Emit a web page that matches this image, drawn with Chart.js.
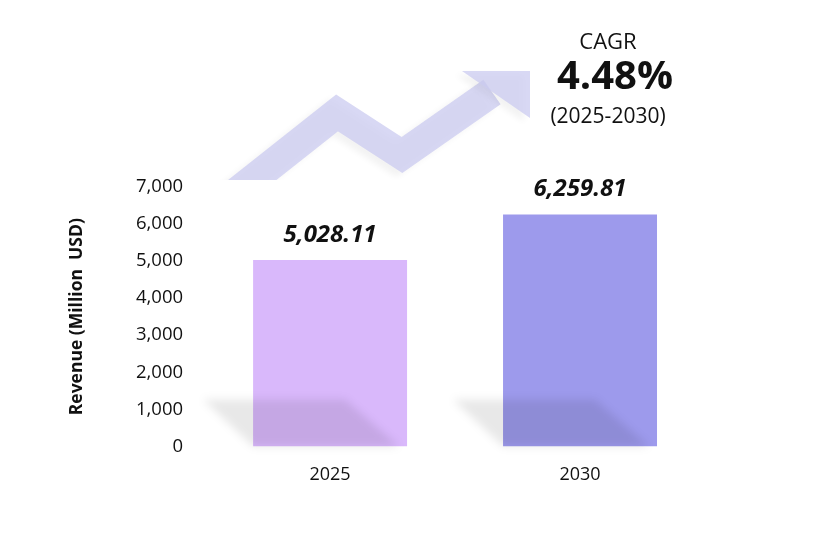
<!DOCTYPE html>
<html>
<head>
<meta charset="utf-8">
<script src="https://cdn.jsdelivr.net/npm/chart.js@4.4.1/dist/chart.umd.min.js"></script>
<style>
  html, body { margin: 0; padding: 0; background: #fff; }
  #wrap { width: 820px; height: 538px; position: relative; }
</style>
</head>
<body>
<div id="wrap"><canvas id="revChart" width="820" height="538"></canvas></div>
<script>
const years = ["2025", "2030"];
const revenue = [5028.11, 6259.81];
const barColors = ["#d9b8fb", "#9d9aec"];
const cagrLabel = "CAGR";
const cagrValue = "4.48%";
const cagrPeriod = "(2025-2030)";

function fmt(v) {
    return v.toLocaleString("en-US", {minimumFractionDigits: 2, maximumFractionDigits: 2});
}

// background arrow + CAGR text, drawn before the bars
const decoPlugin = {
    id: "deco",
    beforeDatasetsDraw(chart) {
        const ctx = chart.ctx;
        ctx.save();
        // arrow band
        ctx.beginPath();
        ctx.rect(0, 0, chart.width, 180);
        ctx.clip();
        ctx.lineWidth = 30;
        ctx.lineJoin = "miter";
        ctx.strokeStyle = "rgba(203,203,240,0.75)";
        ctx.shadowColor = "rgba(0,0,0,0.07)";
        ctx.shadowBlur = 6;
        ctx.shadowOffsetX = -6;
        ctx.shadowOffsetY = 4;
        ctx.beginPath();
        ctx.moveTo(232, 196);
        ctx.lineTo(337, 113);
        ctx.lineTo(402, 155);
        ctx.lineTo(492, 92);
        ctx.stroke();
        ctx.fillStyle = "rgba(203,203,240,0.75)";
        ctx.beginPath();
        ctx.moveTo(462, 71);
        ctx.lineTo(530, 71);
        ctx.lineTo(530, 118);
        ctx.closePath();
        ctx.fill();
        ctx.restore();

        ctx.save();
        ctx.fillStyle = "#111";
        ctx.textAlign = "center";
        ctx.textBaseline = "middle";
        ctx.font = "22px 'Open Sans', sans-serif";
        ctx.fillText(cagrLabel, 608, 43);
        ctx.font = "bold 40px 'Open Sans', sans-serif";
        ctx.fillText(cagrValue, 615, 78);
        ctx.font = "21px 'Open Sans', sans-serif";
        ctx.fillText(cagrPeriod, 608, 117);
        ctx.restore();
    },
    afterDatasetsDraw(chart) {
        const ctx = chart.ctx;
        const meta = chart.getDatasetMeta(0);
        const base = chart.scales.y.getPixelForValue(0);
        ctx.save();
        ctx.filter = "blur(4px)";
        ctx.fillStyle = "rgba(0,0,0,0.09)";
        meta.data.forEach((bar) => {
            const l = bar.x - bar.width / 2;
            const r = bar.x + bar.width / 2;
            ctx.beginPath();
            ctx.moveTo(l - 50, base - 47);
            ctx.lineTo(r - 62, base - 47);
            ctx.lineTo(r - 8, base);
            ctx.lineTo(l, base);
            ctx.closePath();
            ctx.fill();
        });
        ctx.restore();

        ctx.save();
        ctx.fillStyle = "#111";
        ctx.textAlign = "center";
        ctx.textBaseline = "bottom";
        ctx.font = "italic bold 24px 'Open Sans', sans-serif";
        meta.data.forEach((bar, i) => {
            ctx.fillText(fmt(revenue[i]), bar.x, bar.y - 13);
        });
        ctx.restore();
    }
};

new Chart(document.getElementById("revChart"), {
    type: "bar",
    data: {
        labels: years,
        datasets: [{
            data: revenue,
            backgroundColor: barColors,
            borderWidth: 0,
            barPercentage: 0.616,
            categoryPercentage: 1
        }]
    },
    options: {
        responsive: false,
        animation: false,
        layout: { padding: { top: 187, right: 115, bottom: 34, left: 63 } },
        plugins: { legend: { display: false }, tooltip: { enabled: false } },
        scales: {
            x: {
                grid: { display: false, drawTicks: false },
                border: { display: false },
                ticks: { color: "#111", font: { size: 18, family: "'Open Sans', sans-serif" }, padding: 18 }
            },
            y: {
                min: 0,
                max: 7000,
                grid: { display: false, drawTicks: false },
                border: { display: false },
                ticks: {
                    stepSize: 1000,
                    color: "#111",
                    padding: 22,
                    font: { size: 18.5, family: "'Open Sans', sans-serif" },
                    callback: (v) => v.toLocaleString("en-US")
                },
                title: {
                    display: true,
                    text: "Revenue (Million  USD)",
                    color: "#111",
                    font: { size: 17.5, weight: "bold", family: "'Open Sans', sans-serif" },
                    padding: { bottom: 26 }
                }
            }
        }
    },
    plugins: [decoPlugin]
});
</script>
</body>
</html>
